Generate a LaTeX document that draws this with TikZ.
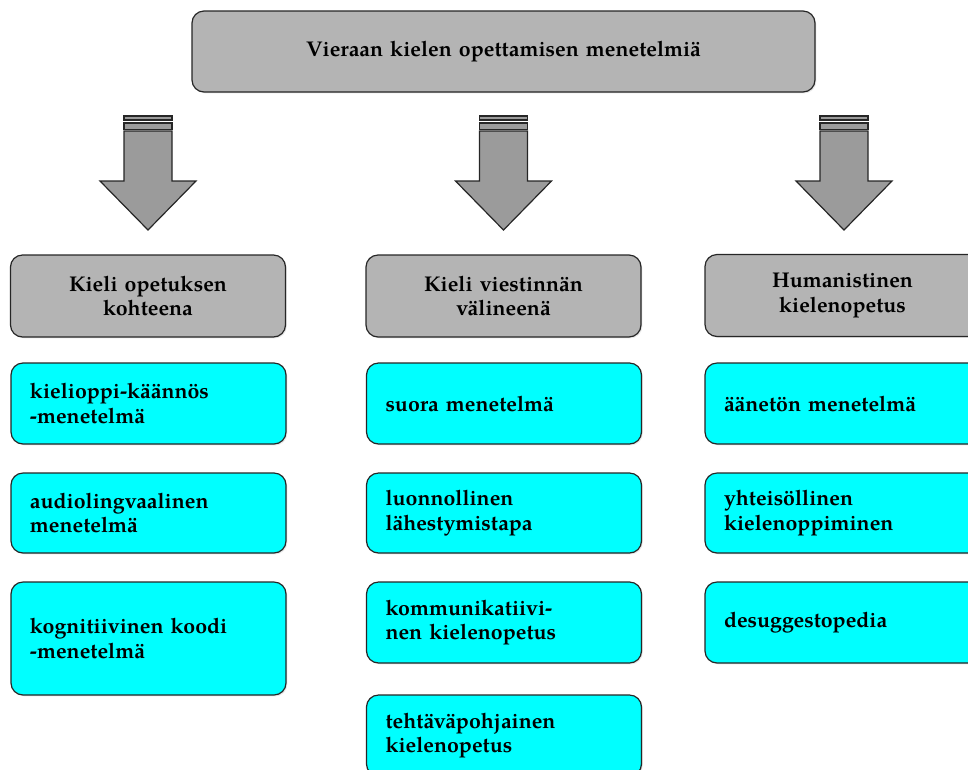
\documentclass[tikz,border=0pt]{standalone}
\usepackage{fontspec}
\setmainfont{texgyrepagella}[Extension=.otf, UprightFont=*-regular, BoldFont=*-bold, ItalicFont=*-italic, BoldItalicFont=*-bolditalic]
\usetikzlibrary{shadows,calc}
\definecolor{boxgray}{RGB}{180,180,180}
\definecolor{arrowgray}{RGB}{155,155,155}
\definecolor{boxcyan}{RGB}{0,255,255}
\tikzset{
  basebox/.style={draw=black!85, line width=0.9pt, rounded corners=9pt,
    minimum width=206.25pt, minimum height=60.75pt, inner ysep=0pt,
    font=\fontsize{16}{18.5}\selectfont\bfseries,
    drop shadow={opacity=0.18, shadow xshift=1pt, shadow yshift=-1pt}},
  graybox/.style={basebox, fill=boxgray, align=center, text width=180pt, inner xsep=13.125pt},
  cyanbox/.style={basebox, fill=boxcyan, align=left, text width=177.75pt, inner xsep=14.25pt},
  blockarrow/.style={draw=black!85, line width=0.9pt, fill=arrowgray, line join=miter},
}
\newcommand{\downblockarrow}[1]{%
  \draw[blockarrow] ($(#1)+(-24,116)$) rectangle ($(#1)+(24,120)$);
  \draw[blockarrow] ($(#1)+(-24,123)$) rectangle ($(#1)+(24,129.5)$);
  \draw[blockarrow] ($(#1)+(-24,131)$) -- ($(#1)+(24,131)$) -- ($(#1)+(24,181)$)
     -- ($(#1)+(48,181)$) -- ($(#1)+(0,230)$) -- ($(#1)+(-48,181)$) -- ($(#1)+(-24,181)$) -- cycle;
}
\begin{document}
\begin{tikzpicture}[x=0.75pt,y=-0.75pt]
\useasboundingbox (0,0) rectangle (968,769);
% top
\node[graybox, minimum width=467.25pt, text width=440pt] (top) at (503.5,51.5) {Vieraan kielen opettamisen menetelmiä};
% arrows
\coordinate (aL) at (148,0);
\coordinate (aM) at (503.5,0);
\coordinate (aR) at (844,0);
\downblockarrow{aL}
\downblockarrow{aM}
\downblockarrow{aR}
% category boxes
\node[graybox, minimum height=61.5pt] (gL) at (148,296) {Kieli opetuksen\\kohteena};
\node[graybox, minimum height=61.5pt] (gM) at (503.5,296) {Kieli viestinnän\\välineenä};
\node[graybox, minimum height=61.5pt] (gR) at (842.5,295.5) {Humanistinen\\kielenopetus};
% left column
\node[cyanbox] (l1) at (148.5,403.5) {kielioppi-käännös\\-menetelmä};
\node[cyanbox, minimum height=60pt] (l2) at (148.5,513) {audiolingvaalinen\\menetelmä};
\node[cyanbox, minimum height=84.75pt] (l3) at (148.5,638.5) {kognitiivinen koodi\\-menetelmä};
% middle column
\node[cyanbox] (m1) at (504,403.5) {suora menetelmä};
\node[cyanbox, minimum height=60pt] (m2) at (504,513) {luonnollinen\\lähestymistapa};
\node[cyanbox] (m3) at (504,622.5) {kommunikatiivi-\\nen kielenopetus};
\node[cyanbox] (m4) at (504,735.5) {tehtäväpohjainen\\kielenopetus};
% right column
\node[cyanbox] (r1) at (842.5,403.5) {äänetön menetelmä};
\node[cyanbox, minimum height=60pt] (r2) at (842.5,513) {yhteisöllinen\\kielenoppiminen};
\node[cyanbox] (r3) at (842.5,622.5) {desuggestopedia};
\end{tikzpicture}
\end{document}
